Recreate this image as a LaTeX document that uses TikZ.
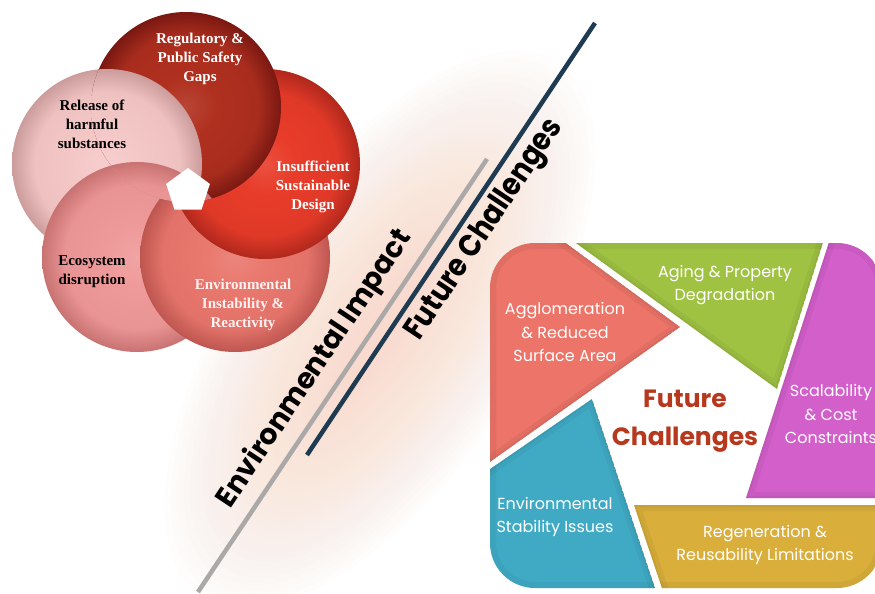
\documentclass[tikz,border=0pt]{standalone}
\usepackage{fontspec}
\setmainfont{Liberation Serif}
\newfontfamily\gothic{Poppins}
\usetikzlibrary{shapes.geometric}

\definecolor{regin}{HTML}{B0301F}\definecolor{regout}{HTML}{7A1812}
\definecolor{insin}{HTML}{E83C2A}\definecolor{insout}{HTML}{B0281C}
\definecolor{envin}{HTML}{E9786E}\definecolor{envout}{HTML}{BE5650}
\definecolor{ecoin}{HTML}{EF9A9A}\definecolor{ecoout}{HTML}{C87272}
\definecolor{relin}{HTML}{F5C8C8}\definecolor{relout}{HTML}{CC9C9C}
\definecolor{cSalmon}{HTML}{EC7468}
\definecolor{cGreen}{HTML}{A0C242}
\definecolor{cMagenta}{HTML}{D35FCA}
\definecolor{cGold}{HTML}{D9AE3B}
\definecolor{cBlue}{HTML}{40AAC4}
\definecolor{cTitle}{HTML}{B8381E}
\definecolor{cGray}{HTML}{ABA8A8}
\definecolor{cNavy}{HTML}{1F3B52}
\definecolor{cGlow}{HTML}{F9D6C2}

% the path's bounding box maps to [-25bp,25bp]: 25bp is the circle's edge
\pgfdeclareradialshading[ballin,ballout]{ball}{\pgfpoint{0bp}{0bp}}{color(0bp)=(ballin!90!white); color(8bp)=(ballin); color(19bp)=(ballin!85!ballout); color(25bp)=(ballout); color(50bp)=(ballout)}

\newcommand\flowball[4]{\colorlet{ballin}{#3}\colorlet{ballout}{#4}\shade[shading=ball] (#1,#2) circle[radius=95pt];}
\newcommand\ballRel{\flowball{107}{164}{relin}{relout}}
\newcommand\ballReg{\flowball{186}{107}{regin}{regout}}
\newcommand\ballIns{\flowball{265}{164}{insin}{insout}}
\newcommand\ballEnv{\flowball{235}{257}{envin}{envout}}
\newcommand\ballEco{\flowball{137}{257}{ecoin}{ecoout}}

\newcommand\panelpiece[2]{%
  \begin{scope}
    \clip #2;
    \fill[#1] #2;
    \draw[#1!70!black, line width=12pt, opacity=.15] #2;
    \draw[#1!70!black, line width=12pt, opacity=.15, rounded corners=45pt] (490,243) rectangle (882,588);
    \draw[#1!75!black, line width=4pt, opacity=.2] #2;
  \end{scope}}

\begin{document}
\begin{tikzpicture}[x=1pt,y=-1pt,
  flowtext/.style={align=center, font=\fontsize{15}{19}\selectfont\bfseries, inner sep=0pt},
  paneltext/.style={align=center, text=white, font=\gothic\fontsize{16}{23.5}\selectfont, inner sep=0pt},
  diagtext/.style={rotate=56.3, inner sep=0pt},
  sepline/.style={line width=4.5pt}]
\useasboundingbox (0,0) rectangle (875,594);
\fill[white] (0,0) rectangle (875,594);

% background glow
\begin{scope}[shift={(380,330)}, rotate=56.3]
  \foreach \k in {1,...,30}{
    \fill[cGlow, opacity=0.035] (0,0) ellipse [x radius={330pt-9pt*\k}, y radius={150pt-4.6pt*\k}];
  }
\end{scope}

% flower of five circles
\ballRel
\ballEco
\ballEnv
\ballIns
\ballReg
\begin{scope}
  \clip (186,107) circle[radius=95pt];
  \ballRel
  \ballEco
\end{scope}
\fill[white] (188,191) +(90:23pt) -- +(162:23pt) -- +(234:23pt) -- +(306:23pt) -- +(18:23pt) -- cycle;

\node[flowtext, text=white] (treg) at (200,59) {Regulatory \&\\Public Safety\\Gaps};
\node[flowtext, text=black] (trel) at (92,124) {Release of\\harmful\\substances};
\node[flowtext, text=white] (tins) at (313,187) {Insufficient\\Sustainable\\Design};
\node[flowtext, text=black] (teco) at (92,272) {Ecosystem\\disruption};
\node[flowtext, text=white!95!red] (tenv) at (243,305) {Environmental\\Instability \&\\Reactivity};

% diagonal separators
\coordinate (g1) at (198,592);
\coordinate (g2) at (487,159);
\coordinate (n1) at (307,455);
\coordinate (n2) at (595,23);
\draw[sepline, cGray] (g1) -- (g2);
\draw[sepline, cNavy] (n1) -- (n2);
\node[diagtext] (timpact) at (315,369) {\resizebox{327pt}{23pt}{\gothic\bfseries Environmental Impact}};
\node[diagtext] (tfuture) at (485,230) {\resizebox{259pt}{23pt}{\gothic\bfseries Future Challenges}};

% right panel
\begin{scope}
  \clip[rounded corners=45pt] (490,243) rectangle (882,588);
  \panelpiece{cSalmon}{(480,230) -- (548,230) -- (680,327) -- (480,469) -- cycle}
  \panelpiece{cGreen}{(558,230) -- (827,230) -- (777,389) -- cycle}
  \panelpiece{cMagenta}{(833,230) -- (900,230) -- (900,498) -- (746,498) -- cycle}
  \panelpiece{cGold}{(634,505) -- (900,505) -- (900,600) -- (666,600) -- cycle}
  \panelpiece{cBlue}{(592,399) -- (659,600) -- (480,600) -- (480,476) -- cycle}
\end{scope}

\node[paneltext] (tagg) at (565,332) {Agglomeration\\\& Reduced\\Surface Area};
\node[paneltext] (tage) at (725,285) {Aging \& Property\\Degradation};
\node[paneltext] (tsca) at (831,414) {Scalability\\\& Cost\\Constraints};
\node[paneltext] (tsta) at (555,517) {Environmental\\Stability Issues};
\node[paneltext] (treg2) at (765,545) {Regeneration \&\\Reusability Limitations};
\node[align=center, text=cTitle, font=\gothic\bfseries\fontsize{25}{38}\selectfont, inner sep=0pt] (tfc) at (685,421) {Future\\Challenges};
\end{tikzpicture}
\end{document}
